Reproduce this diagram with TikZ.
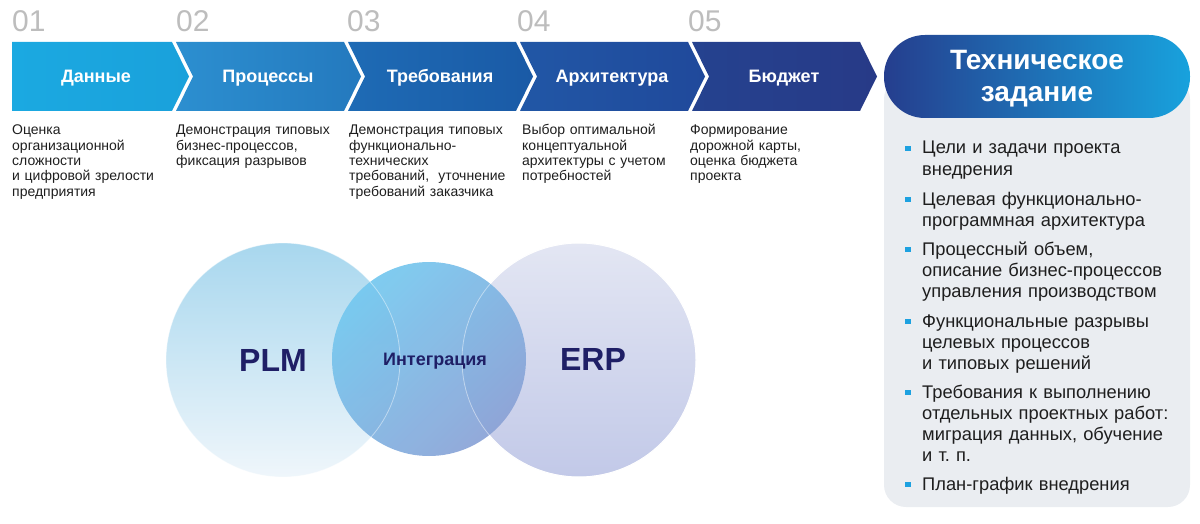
\documentclass[tikz,border=0pt]{standalone}
\usepackage{fontspec}
\setmainfont{Liberation Sans}
\usetikzlibrary{positioning, calc}
\definecolor{StepA}{HTML}{1BA9E1}
\definecolor{StepAr}{HTML}{1AA1DB}
\definecolor{StepB}{HTML}{2C8FD0}
\definecolor{StepBr}{HTML}{2479BE}
\definecolor{StepC}{HTML}{1E6BB5}
\definecolor{StepCr}{HTML}{1A5AA6}
\definecolor{StepD}{HTML}{2157A6}
\definecolor{StepDr}{HTML}{20499B}
\definecolor{StepE}{HTML}{25428F}
\definecolor{StepEr}{HTML}{273A87}
\definecolor{HeadDark}{HTML}{253E8E}
\definecolor{HeadLight}{HTML}{18A2DD}
\definecolor{PanelGray}{HTML}{EAEDF1}
\definecolor{BulletBlue}{HTML}{1DA1E0}
\definecolor{TextDark}{HTML}{1E1E1E}
\definecolor{NumGray}{HTML}{BDBDBD}
\definecolor{VennNavy}{HTML}{1F1F66}
\definecolor{PlmTop}{HTML}{A8D7EE}
\definecolor{PlmBot}{HTML}{EFF6FB}
\definecolor{ErpTop}{HTML}{E3E6F3}
\definecolor{ErpBot}{HTML}{C2C9E8}
\definecolor{IntTop}{HTML}{74C8EF}
\definecolor{IntBot}{HTML}{8AA2D6}

\tikzset{
  stepnum/.style={font=\fontsize{30}{30}\selectfont, text=NumGray, anchor=base west, inner sep=0},
  steplabel/.style={font=\bfseries\fontsize{18}{18}\selectfont, text=white, anchor=base, inner sep=0},
  stepdesc/.style={font=\fontsize{14}{15.3}\selectfont, text=TextDark, anchor=base west,
    inner sep=0, text width=172pt, align=left},
  tzitem/.style={font=\fontsize{18.3}{21.3}\selectfont, text=TextDark, anchor=base west,
    inner sep=0, text width=270pt, align=left},
  bulletsq/.style={fill=BulletBlue, minimum size=5.5pt, inner sep=0},
  venntext/.style={font=\bfseries\fontsize{32}{32}\selectfont, text=VennNavy, anchor=base, inner sep=0},
}

\begin{document}
\begin{tikzpicture}[x=1pt, y=-1pt]
  % --- GEOMETRIC VARIABLES ---
  \def\ChevTop{42}
  \def\ChevBot{111}
  \def\ChevMid{76.5}
  \def\DescLine{135}

  \useasboundingbox (0,0) rectangle (1200,524);

  % =====================================================================
  % 1. STEP CHEVRONS
  % =====================================================================
  \shade[left color=StepA, right color=StepAr]
    (12,\ChevTop) -- (172,\ChevTop) -- (189,\ChevMid) -- (172,\ChevBot) -- (12,\ChevBot) -- cycle;
  \shade[left color=StepB, right color=StepBr]
    (176,\ChevTop) -- (344,\ChevTop) -- (361,\ChevMid) -- (344,\ChevBot) -- (176,\ChevBot) -- (193,\ChevMid) -- cycle;
  \shade[left color=StepC, right color=StepCr]
    (348,\ChevTop) -- (516,\ChevTop) -- (533,\ChevMid) -- (516,\ChevBot) -- (348,\ChevBot) -- (365,\ChevMid) -- cycle;
  \shade[left color=StepD, right color=StepDr]
    (520,\ChevTop) -- (688,\ChevTop) -- (705,\ChevMid) -- (688,\ChevBot) -- (520,\ChevBot) -- (537,\ChevMid) -- cycle;
  \shade[left color=StepE, right color=StepEr]
    (692,\ChevTop) -- (860,\ChevTop) -- (877,\ChevMid) -- (860,\ChevBot) -- (692,\ChevBot) -- (709,\ChevMid) -- cycle;

  % Step numbers
  \node[stepnum] (num1) at (12,32) {01};
  \node[stepnum] (num2) at (176,32) {02};
  \node[stepnum] (num3) at (347,32) {03};
  \node[stepnum] (num4) at (517,32) {04};
  \node[stepnum] (num5) at (688,32) {05};

  % Step titles
  \node[steplabel] (lab1) at (96,83) {Данные};
  \node[steplabel] (lab2) at (268,83) {Процессы};
  \node[steplabel] (lab3) at (440,83) {Требования};
  \node[steplabel] (lab4) at (612,83) {Архитектура};
  \node[steplabel] (lab5) at (784,83) {Бюджет};

  % Step descriptions
  \node[stepdesc] (desc1) at (12,\DescLine)
    {Оценка\\организационной\\сложности\\и цифровой зрелости\\предприятия};
  \node[stepdesc] (desc2) at (176,\DescLine)
    {Демонстрация типовых\\бизнес-процессов,\\фиксация разрывов};
  \node[stepdesc] (desc3) at (349,\DescLine)
    {Демонстрация типовых\\функционально-\\технических\\требований,~ уточнение\\требований заказчика};
  \node[stepdesc] (desc4) at (522,\DescLine)
    {Выбор оптимальной\\концептуальной\\архитектуры с учетом\\потребностей};
  \node[stepdesc] (desc5) at (690,\DescLine)
    {Формирование\\дорожной карты,\\оценка бюджета\\проекта};

  % =====================================================================
  % 2. VENN CIRCLES
  % =====================================================================
  \shade[top color=PlmTop, bottom color=PlmBot] (283,360) circle (117);
  \shade[top color=ErpTop, bottom color=ErpBot] (579,360) circle (117);
  \draw[white, line width=1pt] (579,360) circle (117);
  % Overlap circle
  \shade[top color=IntTop, bottom color=IntBot, shading angle=45, opacity=0.92] (429,359) circle (97);
  \draw[white, opacity=0.45, line width=0.8pt] (283,360) circle (117);
  \draw[white, opacity=0.45, line width=0.8pt] (579,360) circle (117);

  \node[venntext] (plm) at (273,371.5) {PLM};
  \node[venntext, font=\bfseries\fontsize{18}{18}\selectfont] (integ) at (435,365) {Интеграция};
  \node[venntext] (erp) at (593,370.5) {ERP};

  % =====================================================================
  % 3. TERMS OF REFERENCE PANEL
  % =====================================================================
  \fill[PanelGray, rounded corners=22pt] (884,77) rectangle (1190,507);
  \shade[left color=HeadDark, right color=HeadLight, rounded corners=41pt] (884,35) rectangle (1190,118);
  \node[font=\bfseries\fontsize{28}{32}\selectfont, text=white, anchor=base, inner sep=0,
    text width=300pt, align=center] (tzhead) at (1037,70) {Техническое\\задание};

  % Items
  \node[tzitem] (tz1) at (922,154) {Цели и задачи проекта\\внедрения};
  \node[tzitem] (tz2) at (922,205) {Целевая функционально-\\программная архитектура};
  \node[tzitem] (tz3) at (922,255) {Процессный объем,\\описание бизнес-процессов\\управления производством};
  \node[tzitem] (tz4) at (922,327) {Функциональные разрывы\\целевых процессов\\и типовых решений};
  \node[tzitem] (tz5) at (922,398) {Требования к выполнению\\отдельных проектных работ:\\миграция данных, обучение\\и т.~п.};
  \node[tzitem] (tz6) at (922,490) {План-график внедрения};

  % Bullets
  \node[bulletsq] (bul1) at ([xshift=-14pt, yshift=5.5pt]tz1.base west) {};
  \node[bulletsq] (bul2) at ([xshift=-14pt, yshift=5.5pt]tz2.base west) {};
  \node[bulletsq] (bul3) at ([xshift=-14pt, yshift=5.5pt]tz3.base west) {};
  \node[bulletsq] (bul4) at ([xshift=-14pt, yshift=5.5pt]tz4.base west) {};
  \node[bulletsq] (bul5) at ([xshift=-14pt, yshift=5.5pt]tz5.base west) {};
  \node[bulletsq] (bul6) at ([xshift=-14pt, yshift=5.5pt]tz6.base west) {};

\end{tikzpicture}
\end{document}
